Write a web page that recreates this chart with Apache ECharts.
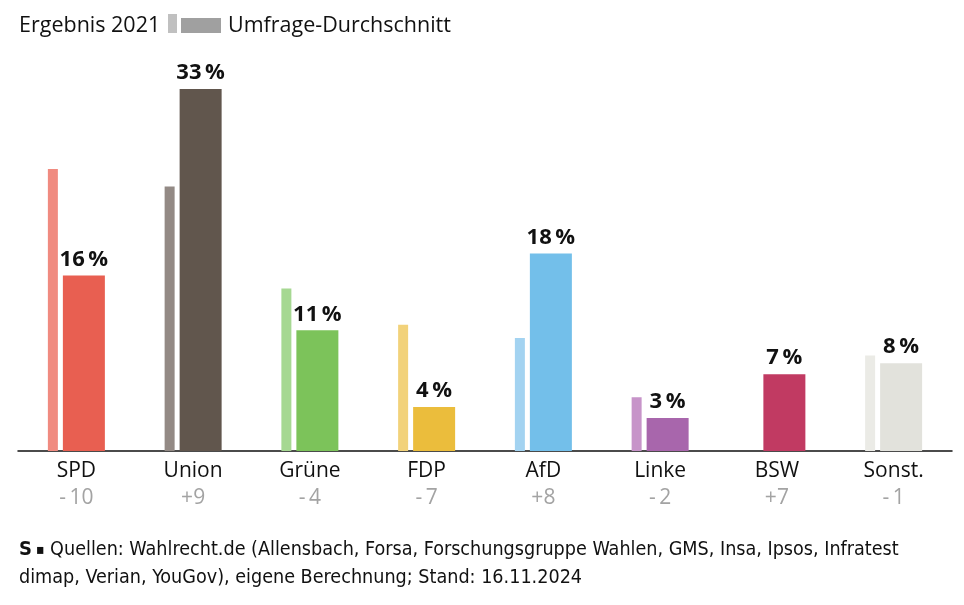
<!DOCTYPE html>
<html><head><meta charset="utf-8">
<script src="https://cdn.jsdelivr.net/npm/echarts@6/dist/echarts.min.js"></script>
<style>html,body{margin:0;padding:0;background:#fff}#c{width:964px;height:605px}</style>
</head><body><div id="c"></div>
<script>
const categories = ['SPD','Union','Grüne','FDP','AfD','Linke','BSW','Sonst.'];
const result2021 = [25.7, 24.1, 14.8, 11.5, 10.3, 4.9, null, 8.7];
const pollAverage = [16, 33, 11, 4, 18, 3, 7, 8];
const changes = ['-\u200910','+9','-\u20094','-\u20097','+8','-\u20092','+7','-\u20091'];
const colors2021 = ['#f08b80','#938a85','#a6d892','#f2d27a','#a3d3f1','#c794c9','#c13a62','#ebebe6'];
const colorsPoll = ['#e85f51','#61564d','#7cc35a','#ebbd3c','#73bfea','#a866ac','#c13a62','#e2e2dc'];

const FONT = '"Open Sans", Roboto, sans-serif';
const NARROW = '"Liberation Sans Narrow", "DejaVu Sans Condensed", sans-serif';

const chart = echarts.init(document.getElementById('c'));
chart.setOption({
  animation: false,
  textStyle: {fontFamily: FONT},
  grid: {left: 18, right: 12, top: 67, bottom: 154},
  xAxis: {
    type: 'category', data: categories,
    axisLine: {lineStyle: {color: '#111', width: 1.5}},
    axisTick: {show: false},
    axisLabel: {
      margin: 7,
      formatter: (v, i) => '{a|' + v + '}\n{b|' + changes[i] + '}',
      rich: {
        a: {fontFamily: FONT, fontSize: 21, color: '#111', lineHeight: 27},
        b: {fontFamily: FONT, fontSize: 21, color: '#a3a3a3', lineHeight: 27}
      }
    }
  },
  yAxis: {type: 'value', min: 0, max: 35, show: false, splitLine: {show: false}},
  series: [
    {
      name: 'Ergebnis 2021', type: 'bar', barWidth: 10, barGap: '50%',
      data: result2021.map((v, i) => ({value: v, itemStyle: {color: colors2021[i]}}))
    },
    {
      name: 'Umfrage-Durchschnitt', type: 'bar', barWidth: 42,
      data: pollAverage.map((v, i) => ({value: v, itemStyle: {color: colorsPoll[i]}})),
      label: {
        show: true, position: 'top', distance: 5,
        formatter: p => p.value + '\u2009%',
        fontFamily: FONT, fontSize: 22, fontWeight: 'bold', color: '#111'
      }
    }
  ],
  graphic: [
    {type: 'text', left: 19, top: 15, style: {text: 'Ergebnis 2021', font: '21.5px ' + FONT, fill: '#111'}},
    {type: 'rect', shape: {x: 168, y: 14, width: 9, height: 19}, style: {fill: '#c0c0c0'}},
    {type: 'rect', shape: {x: 181, y: 18, width: 40, height: 15}, style: {fill: '#a0a0a0'}},
    {type: 'text', left: 228, top: 15, style: {text: 'Umfrage-Durchschnitt', font: '21.5px ' + FONT, fill: '#111'}},
    {type: 'text', left: 19, top: 536, style: {
      text: '{s|S}{q| ▪} Quellen: Wahlrecht.de (Allensbach, Forsa, Forschungsgruppe Wahlen, GMS, Insa, Ipsos, Infratest\ndimap, Verian, YouGov), eigene Berechnung; Stand: 16.11.2024',
      font: '19.6px ' + NARROW, fill: '#111', lineHeight: 28,
      rich: {
        s: {fontFamily: NARROW, fontSize: 20, fontWeight: 'bold', fill: '#111', lineHeight: 28},
        q: {fontFamily: NARROW, fontSize: 14, fill: '#111', lineHeight: 28}
      }
    }}
  ]
});
</script></body></html>
